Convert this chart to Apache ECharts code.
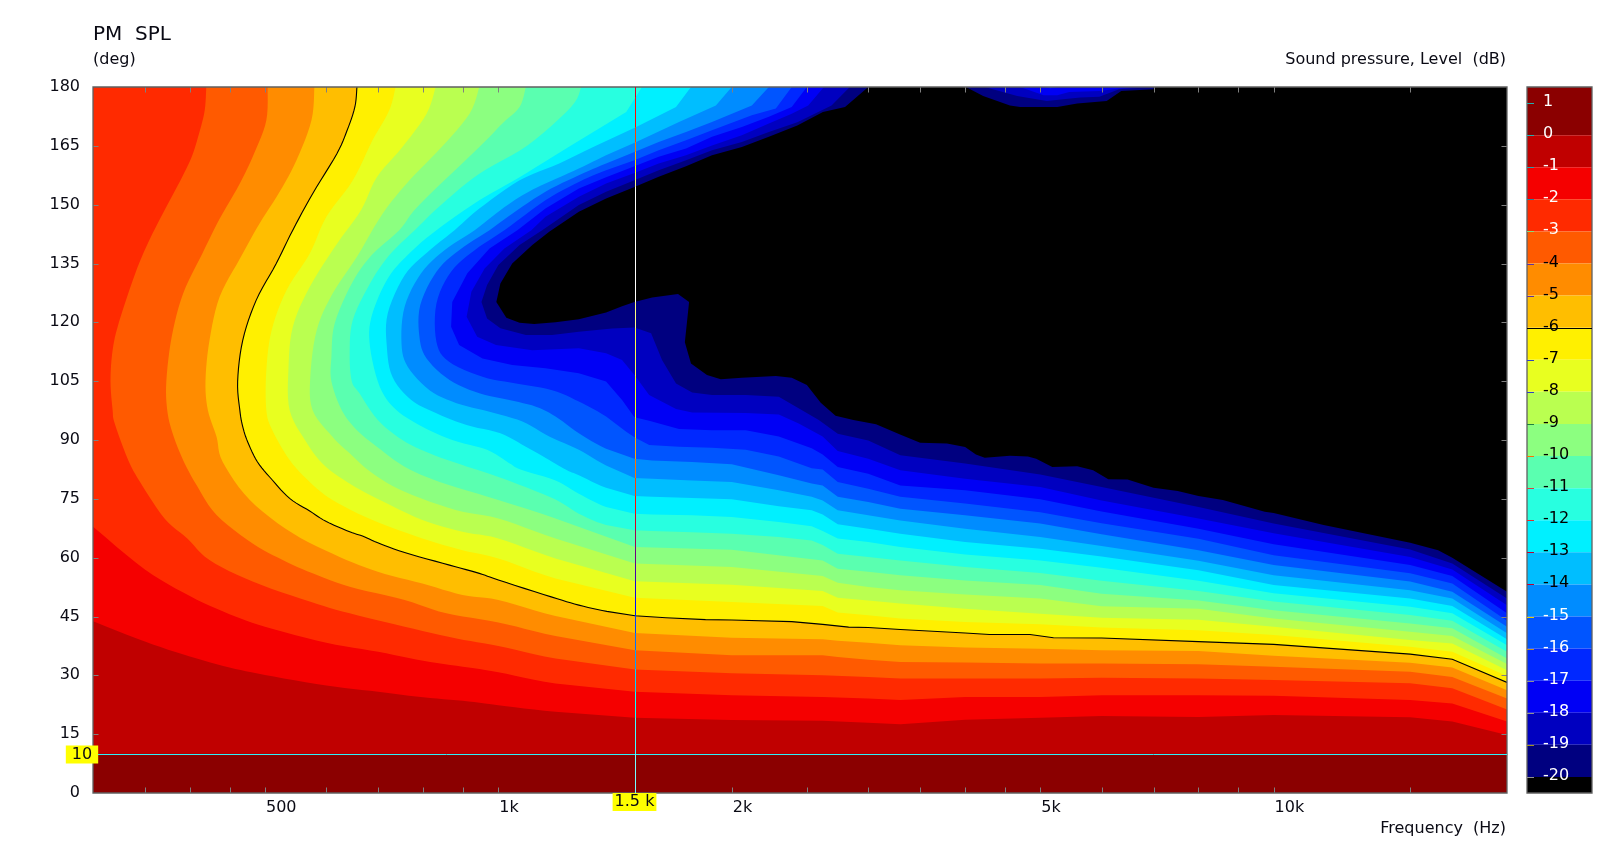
<!DOCTYPE html>
<html><head><meta charset="utf-8">
<script src="https://cdn.jsdelivr.net/npm/echarts@6/dist/echarts.min.js"></script>
<style>html,body{margin:0;padding:0;background:#fff}#c{width:1612px;height:846px}</style>
</head><body><div id="c"></div>
<script>
// Contours of level (dB) as [frequency Hz, angle deg].
const c0=[[300,10],[20000,10]];
const c1=[[300,43.8],[350,38.6],[400,34.8],[450,32],[500,30.1],[600,27.4],[700,25.8],[800,24.4],[900,23.5],[1000,22.4],[1185,20.7],[1500,19.2],[2000,18.6],[2620,18.4],[3000,17.9],[3300,17.5],[4000,18.7],[5000,19.2],[6000,19.6],[8000,19.4],[10000,19.9],[15000,19.3],[17000,18.2],[20000,14.8]];
const c2=[[300,67.9],[350,57],[400,50.2],[450,45.6],[500,42.4],[600,38.3],[700,36],[800,33.7],[900,32.2],[1000,30.8],[1185,27.9],[1500,25.8],[2000,24.9],[2620,24.5],[3000,24.1],[3300,23.7],[4000,24.5],[5000,24.5],[6000,24.9],[8000,24.9],[10000,24.8],[15000,23.7],[17000,22.8],[20000,18.2]];
const c3=[[420,180],[418,174],[411,168.1],[402,162.1],[388,155.8],[369,147.7],[353,140.1],[340,132.4],[324,120],[318,112.9],[316,105],[318,97.6],[320,94.2],[333,84.9],[345,79.3],[371,70],[397,64.9],[424,59.4],[482,53.9],[571,48.8],[643,45.8],[757,42.4],[883,39.4],[1000,37.5],[1185,34.3],[1500,31.5],[2000,30.5],[2620,30],[3000,29.6],[3300,29.2],[4000,29.2],[5000,29.2],[6000,29.4],[8000,29.2],[10000,28.8],[15000,28],[17000,26.7],[20000,21.3]];
const c4=[[504,180],[502,171.5],[485,163.4],[464,155.4],[437,146.4],[415,137.5],[392,127.3],[379,116.3],[373,105],[374,97.6],[380,91.7],[392,84.9],[408,78.5],[433,70.9],[482,63.6],[527,59.4],[576,56],[643,52.6],[757,49.2],[857,45.8],[1000,43.5],[1185,40],[1500,36.4],[2000,35.1],[2620,35.1],[2740,34.7],[3000,34],[3300,33.4],[4000,33.3],[5000,33],[6000,33],[8000,32.8],[10000,32.2],[15000,30.9],[17000,29.6],[20000,24.1]];
const c5=[[579,180],[574,171.5],[549,161.3],[522,153.2],[492,145.2],[464,136.2],[437,126.5],[424,115.4],[419,105],[422,97.6],[433,90.8],[441,84.4],[478,74.7],[543,66.2],[624,60.2],[699,56.4],[798,53.4],[899,50.5],[1000,49.2],[1185,45.1],[1500,40.8],[2000,39.6],[2620,39.2],[2740,38.8],[3000,38.3],[3300,37.7],[4000,37.1],[5000,36.8],[6000,36.4],[8000,36.2],[10000,35],[15000,33.2],[17000,32],[20000,26.2]];
const c6=[[657,180],[653,174.9],[638,168.9],[619,163],[576,152.8],[543,143.5],[517,135],[487,125.6],[468,115.4],[461,105],[464,97.6],[468,93.4],[475,89.5],[489,84.4],[511,79.8],[538,75.1],[571,71.9],[600,69.2],[643,66.6],[668,65.5],[699,63.8],[757,61.3],[865,58.1],[945,56],[1000,54.3],[1170,50],[1270,47.9],[1380,46.3],[1500,45.2],[1645,44.7],[1850,44.2],[2000,44.1],[2390,43.7],[2620,43],[2830,42.3],[3000,42.2],[3300,41.7],[4000,40.8],[4300,40.4],[4850,40.4],[5200,39.6],[6000,39.5],[8000,38.6],[10000,37.9],[15000,35.4],[17000,34.1],[20000,28.2]];
const c7=[[737,180],[723,174],[688,166.4],[649,156.2],[600,146.9],[571,137.5],[533,128.2],[510,118],[502,107.8],[502,97.6],[511,92.5],[538,84.9],[571,79.3],[611,74.7],[688,69.6],[798,64.9],[899,61.9],[1000,59.8],[1185,54.7],[1500,49.8],[2000,48.7],[2620,47.7],[2740,46],[3000,45.3],[3300,44.5],[4000,43.6],[5000,43],[6000,42.2],[8000,41.5],[10000,40.3],[15000,37.3],[17000,36],[20000,29.8]];
const c8=[[830,180],[808,173.2],[752,164.7],[697,157],[665,148.6],[619,140],[571,129],[543,118.8],[536,107.8],[538,97.6],[563,90],[593,84],[638,79.3],[697,75.1],[798,69.6],[899,66.6],[1000,64.9],[1185,59.8],[1500,54],[2000,53.1],[2620,51.5],[2740,49.8],[3000,49.1],[3300,48.3],[4000,47],[5000,45.7],[6000,44.7],[8000,44.2],[10000,42.4],[15000,39],[17000,38.1],[20000,31.3]];
const c9=[[945,180],[918,173.2],[845,164.7],[768,156.2],[709,147.7],[657,136.7],[611,127.3],[583,118],[572,106.1],[576,97.6],[611,90.8],[643,86.6],[688,81.5],[757,76.8],[883,72.1],[1000,70],[1185,64.9],[1500,58.5],[2000,57.6],[2620,55.3],[2740,53.6],[3000,52.5],[3300,51.7],[4000,50.6],[5000,49.6],[6000,47.6],[8000,47],[10000,44.5],[15000,41.1],[17000,40],[20000,32.9]];
const c10=[[1085,180],[1065,174.9],[1012,170.7],[945,164.7],[791,150],[745,143.5],[686,137.1],[647,129.9],[615,119.7],[609,111.1],[609,105],[628,97.6],[657,92.5],[697,88.3],[757,83.2],[840,79.3],[1000,74.7],[1185,70],[1500,62.7],[2000,62],[2620,59.3],[2740,57.2],[3000,56.4],[3300,55.5],[4000,54.2],[5000,53],[6000,50.8],[8000,49.1],[10000,46.6],[15000,43.2],[17000,42],[20000,34.3]];
const c11=[[1279,180],[1241,174.9],[1090,165.1],[945,157.9],[844,150],[780,143.5],[723,137.1],[683,129.9],[649,120.6],[643,112.1],[647,105],[662,101.9],[699,95.1],[752,90],[815,86.6],[899,83.6],[939,82.4],[1042,79.3],[1185,74.8],[1270,71.2],[1377,68.3],[1498,67],[1579,66.8],[1778,66.5],[2000,66.1],[2300,65.3],[2536,64.4],[2620,63.2],[2740,61],[3000,60.2],[3300,59.3],[4000,57.6],[5000,56.1],[6000,54.1],[8000,51.5],[10000,48.8],[15000,45.4],[17000,43.9],[20000,36]];
const c12=[[1532,180],[1462,173.6],[1241,165.1],[1065,157],[945,151.1],[832,143.5],[768,137.6],[720,131.2],[686,121.4],[683,113.8],[703,103.6],[738,97.7],[798,93.4],[872,90],[967,87.5],[1033,84.1],[1070,82.4],[1185,79.7],[1270,76.3],[1377,72.9],[1498,71.2],[1579,71],[1778,70.8],[2000,70.4],[2300,69.1],[2536,68],[2620,66.8],[2740,64.9],[3000,64],[3300,62.7],[4000,60.8],[5000,59.3],[6000,57.4],[8000,54.1],[10000,50.9],[15000,47.5],[17000,45.8],[20000,37.7]];
const c13=[[1772,180],[1695,174.9],[1506,169.8],[1338,165.1],[1198,160.5],[1065,156.2],[945,149],[878,143.5],[810,137.9],[757,132],[720,122.3],[718,113.8],[730,106.1],[772,100.2],[832,96.8],[910,93.8],[1006,91.7],[1085,88.3],[1163,84.9],[1223,82.4],[1270,81],[1377,77.8],[1498,75.7],[1579,75.5],[1778,75.2],[2000,74.9],[2300,73.1],[2536,72.1],[2620,71],[2740,68.5],[3000,67.4],[3300,66.1],[4000,64],[5000,62.3],[6000,60.3],[8000,56.8],[10000,53],[15000,49.6],[17000,47.7],[20000,39.2]];
const c14=[[2000,180],[1908,175.3],[1710,171.1],[1506,166],[1377,162.6],[1270,159.2],[1150,155.4],[1074,152.4],[1006,148.6],[932,143.5],[852,138.4],[795,132.5],[757,124],[750,114.6],[764,108.7],[815,102.7],[883,99.4],[974,97.2],[1074,94.7],[1163,90.9],[1270,87.5],[1377,83.5],[1498,80.3],[1579,80.1],[1778,79.7],[2000,79.3],[2300,77.2],[2536,75.5],[2620,74.6],[2740,72.1],[3000,70.8],[3300,69.5],[4000,67.4],[5000,65.3],[6000,63],[8000,59.2],[10000,55.5],[15000,51.7],[17000,49.6],[20000,40.7]];
const c15=[[2233,180],[2123,175.3],[1886,171.1],[1746,168.5],[1610,166],[1498,163.4],[1377,160.5],[1270,157.5],[1150,153.3],[1042,147.7],[974,143.5],[890,138.4],[832,132.9],[793,124.4],[791,116.3],[808,110.8],[865,105.3],[945,101.9],[1033,100.2],[1118,98.5],[1185,96],[1270,91.7],[1377,87.8],[1498,85.2],[1579,84.8],[1778,84.4],[2000,83.8],[2300,81],[2536,78.9],[2620,78.4],[2740,75.5],[3000,74.2],[3300,72.5],[4000,70.8],[5000,68.7],[6000,66],[8000,61.9],[10000,58.1],[15000,53.9],[17000,51.3],[20000,42.4]];
const c16=[[2390,180],[2280,174.5],[2123,172.8],[1886,169],[1746,166.4],[1610,163.9],[1498,161.3],[1377,158.8],[1270,155.8],[1150,151.1],[1018,143.5],[932,138.4],[869,132.9],[832,124.8],[832,115],[863,110],[954,106.1],[1054,104.4],[1173,102.7],[1270,99.8],[1377,96],[1462,92.1],[1498,90.7],[1565,88.7],[1710,88.3],[1886,88],[2085,87.5],[2300,85.8],[2536,82.8],[2620,82.5],[2740,79.3],[3000,77.6],[3300,75.5],[4000,73.8],[5000,71.6],[6000,68.8],[8000,64.8],[10000,60.6],[15000,56],[17000,53.4],[20000,43.9]];
const c17=[[2500,180],[2390,174.9],[2233,172.4],[2061,169.8],[1886,167.3],[1746,164.3],[1610,162.2],[1498,159.8],[1377,157],[1270,154.1],[1150,149],[1058,143.5],[974,138.8],[912,132.5],[872,125.2],[869,118.9],[890,114.2],[954,110.8],[1042,109.1],[1150,108.3],[1270,107],[1377,104.9],[1444,100.2],[1498,95.8],[1565,94.9],[1710,92.8],[1886,92.5],[2085,92.5],[2300,90.9],[2536,87.9],[2620,86.3],[2740,83.1],[3000,81.4],[3300,78.4],[4000,77.2],[5000,74.9],[6000,71.8],[8000,67.4],[10000,63.4],[15000,58.1],[17000,55.3],[20000,45.8]];
const c18=[[2630,180],[2510,175.3],[2390,173.2],[2233,170.7],[2061,167.7],[1886,165.1],[1746,162.6],[1610,160.5],[1498,158.1],[1377,155.4],[1270,152],[1150,146.9],[1103,143.5],[1018,138.8],[960,133.7],[923,127.8],[910,121.4],[939,116.3],[993,114.2],[1106,112.9],[1270,113.4],[1377,112.1],[1444,110.4],[1498,106.6],[1565,101.5],[1695,97.9],[1778,97],[2085,96.9],[2300,96.5],[2440,94.2],[2620,90.9],[2740,87.2],[3000,85.2],[3300,82.3],[4000,80.1],[5000,78],[6000,74.6],[8000,70],[10000,66.2],[15000,60.2],[17000,57],[20000,47.9]];
const c19=[[2840,180],[2690,175.3],[2430,171],[2233,168.5],[2061,166],[1886,163.9],[1746,161.3],[1610,158.8],[1498,156.2],[1377,153.3],[1270,149.9],[1139,143.5],[1065,139.7],[1000,134.6],[967,129.5],[951,125.2],[967,121],[1006,118.5],[1085,116.8],[1173,116.8],[1270,117.6],[1402,118.4],[1498,118.7],[1574,117.2],[1626,110.4],[1695,104.4],[1778,102.1],[1886,101.5],[2085,101.5],[2300,101],[2590,95.1],[2740,91.6],[3000,89.9],[3300,86.1],[4000,84],[5000,81.2],[6000,78],[8000,72.9],[10000,68.7],[15000,62.1],[17000,58.5],[20000,49.6]];
const c20=[[3000,180],[2800,174.9],[2622,173.6],[2430,170.2],[2233,167.3],[2061,164.7],[1886,162.6],[1746,159.8],[1610,157.1],[1498,154.5],[1377,151.6],[1270,148.2],[1163,143.1],[1106,139.7],[1042,135],[1006,129.9],[994,125.2],[1024,121.2],[1065,119.9],[1112,119.6],[1185,120],[1270,120.8],[1377,122.5],[1444,124.1],[1498,125.2],[1579,126.3],[1705,127.2],[1762,125.2],[1740,114.9],[1772,109.5],[1858,106.6],[1936,105.5],[2061,105.9],[2280,106.3],[2390,105.9],[2500,104],[2605,99.5],[2722,96.2],[2870,95.1],[3070,94],[3297,91.4],[3500,89.3],[3790,89.1],[4000,88.2],[4130,86.3],[4240,85.5],[4570,86],[4820,85.8],[4940,85.2],[5182,83.1],[5580,83.3],[5850,82.3],[6120,80],[6480,79.9],[7000,77.8],[7520,77],[8000,75.7],[8600,74.7],[9740,71.7],[10000,71.4],[11600,68.3],[15000,63.8],[16300,61.9],[17000,60],[20000,51.3]];
// Small island of higher level along the 180 deg edge
const islandM20=[[4010,180],[4220,177.7],[4570,175.3],[4710,174.9],[5260,174.9],[5580,175.8],[6090,176.4],[6360,179],[7000,179.4],[7000,180]];
const islandM19=[[4240,180],[4670,177.7],[5100,176.4],[5350,176.9],[5630,177.3],[5960,177.5],[6320,179.4],[6980,180]];
const islandM18=[[4710,180],[5050,177.9],[5260,177.9],[5450,178.7],[5960,179],[6320,179.6],[6580,180]];
const islandM17=[[5050,180],[5150,179.7],[5280,180]];

const contours=[c0,c1,c2,c3,c4,c5,c6,c7,c8,c9,c10,c11,c12,c13,c14,c15,c16,c17,c18,c19,c20];
const islands=[islandM20,islandM19,islandM18,islandM17];
const islandColors=['#000080','#0000c0','#0000f5','#0028ff'];
// colour of the band directly below each contour level
const bandColors=['#c00000','#f50000','#ff2a00','#ff5a00','#ff8c00','#ffbe00','#fff000','#e8ff20','#baff50','#8cff80','#5affb0','#28ffe0','#00f0ff','#00beff','#008cff','#0055ff','#0028ff','#0000f5','#0000c0','#000080','#000000'];
const topColor='#8b0000';
const levels=[0,-1,-2,-3,-4,-5,-6,-7,-8,-9,-10,-11,-12,-13,-14,-15,-16,-17,-18,-19,-20];
const scaleLabels=[1,0,-1,-2,-3,-4,-5,-6,-7,-8,-9,-10,-11,-12,-13,-14,-15,-16,-17,-18,-19,-20];
const scaleTickColors=['#20b0b0','#20b0b0','#20a0b0','#2080a0','#80e080','#6030a0','#6030a0','#000000','#3040c0','#3040c0','#208040','#ff7000','#e04040','#e03030','#c00030','#c00030','#e0d000','#c09020','#909090','#909090','#a09020','#909090'];
const freqTicks=[350,400,450,500,600,700,800,900,1000,1500,2000,2500,3000,3500,4000,4500,5000,6000,7000,8000,9000,10000,15000];
const freqLabels=[[500,'500'],[1000,'1k'],[2000,'2k'],[5000,'5k'],[10000,'10k']];
const angleTicks=[15,30,45,60,75,90,105,120,135,150,165];
const cursorFreq=1500, cursorAngle=10;
const F_MIN=300,F_MAX=20000;
const SMOOTH_BELOW=1400, SMOOTH_CONTOURS=16;

const FONT='"DejaVu Sans"';
const FS='16px '+FONT;
const TXT='#0a0a14';
const chart=echarts.init(document.getElementById('c'),null,{renderer:'canvas'});

// Pixel path of a contour; the low-frequency part is drawn as a curve through the read points.
function contourPixels(c,i,api){
  const px=c.map(q=>api.coord(q));
  if(i<1||i>SMOOTH_CONTOURS)return px;
  const out=[];
  for(let k=0;k<px.length-1;k++){
    out.push(px[k]);
    if(c[k][0]<SMOOTH_BELOW&&c[k+1][0]<SMOOTH_BELOW){
      const a=px[Math.max(k-1,0)],b=px[k],d=px[k+1],e=px[Math.min(k+2,px.length-1)];
      for(let s=1;s<6;s++){
        const t=s/6,t2=t*t,t3=t2*t;
        out.push([0,1].map(j=>.5*(2*b[j]+(d[j]-a[j])*t+(2*a[j]-5*b[j]+4*d[j]-e[j])*t2+(3*b[j]-a[j]-3*d[j]+e[j])*t3)));
      }
    }
  }
  out.push(px[px.length-1]);
  return out;
}
function polygonPixels(i,api){
  const c=contours[i],p=contourPixels(c,i,api);
  p.push(api.coord([F_MAX,180]));
  if(c[0][0]===F_MIN)p.push(api.coord([F_MIN,180]));
  return p;
}
function inside(pt,poly){
  let r=false;
  for(let a=0,b=poly.length-1;a<poly.length;b=a++){
    if((poly[a][1]>pt[1])!==(poly[b][1]>pt[1])&&pt[0]<(poly[b][0]-poly[a][0])*(pt[1]-poly[a][1])/(poly[b][1]-poly[a][1])+poly[a][0])r=!r;
  }
  return r;
}
function invert(hex){
  const v=0xffffff^parseInt(hex.slice(1),16);
  return '#'+v.toString(16).padStart(6,'0');
}
const plotItems=contours.map((_,i)=>[F_MIN,0,i]);
const islandItems=islands.map((_,i)=>[F_MIN,0,i]);

function overlay(params,api){
  const cs=params.coordSys, L=cs.x,T=cs.y,R=cs.x+cs.width,B=cs.y+cs.height;
  const kids=[];
  const line=(x1,y1,x2,y2)=>kids.push({type:'line',shape:{x1,y1,x2,y2},style:{stroke:'#808080',lineWidth:1}});
  freqTicks.forEach(f=>{const x=Math.round(api.coord([f,0])[0])+.5;line(x,B,x,B-5.5);line(x,T,x,T+5.5);});
  angleTicks.forEach(a=>{const y=Math.round(api.coord([F_MIN,a])[1])+.5;line(L,y,L+5.5,y);line(R,y,R-5.5,y);});
  kids.push({type:'rect',shape:{x:L,y:T,width:cs.width,height:cs.height},style:{fill:null,stroke:'#606060',lineWidth:1.3}});
  freqLabels.forEach(([f,t])=>{const x=api.coord([f,0])[0];kids.push({type:'text',x:x+1,y:B+15,style:{text:t,font:FS,fill:TXT,textAlign:'left',textVerticalAlign:'middle'}});});
  return {type:'group',children:kids};
}
// Cursor lines invert whatever band they cross.
function cursors(params,api){
  const cs=params.coordSys, L=cs.x,T=cs.y,R=cs.x+cs.width,B=cs.y+cs.height;
  const x=Math.round(api.coord([cursorFreq,0])[0])+.5, y=Math.round(api.coord([F_MIN,cursorAngle])[1])+.5;
  const polyPx=contours.map((_,i)=>polygonPixels(i,api));
  const islandPx=islands.map(q=>q.map(p=>api.coord(p)));
  const colorAt=(px,py)=>{
    let col=topColor;
    polyPx.forEach((p,i)=>{if(inside([px,py],p))col=bandColors[i];});
    islandPx.forEach((p,i)=>{if(inside([px,py],p))col=islandColors[i];});
    return col;
  };
  const kids=[];
  kids.push({type:'line',shape:{x1:L,y1:y,x2:R,y2:y},style:{stroke:'#30f0f8',lineWidth:1}});
  let start=T,cur=colorAt(x,T+.5);
  for(let py=T+1;py<=B;py++){
    const col=py<B?colorAt(x,py+.5):null;
    if(col!==cur){
      kids.push({type:'rect',shape:{x:x-.5,y:start,width:1,height:py-start},style:{fill:invert(cur)}});
      start=py;cur=col;
    }
  }
  kids.push({type:'text',x:L-11,y:y,style:{text:String(cursorAngle),font:FS,fill:TXT,textAlign:'center',textVerticalAlign:'middle',backgroundColor:'#ffff00',padding:[1,6,1,6]}});
  kids.push({type:'text',x:x-1,y:B+9,style:{text:'1.5 k',font:FS,fill:TXT,textAlign:'center',textVerticalAlign:'middle',backgroundColor:'#ffff00',padding:[1,2,1,2]}});
  return {type:'group',children:kids};
}
function scaleOverlay(params,api){
  const cs=params.coordSys, L=cs.x,T=cs.y,R=cs.x+cs.width,B=cs.y+cs.height;
  const kids=[];
  kids.push({type:'rect',shape:{x:L,y:T,width:cs.width,height:cs.height},style:{fill:null,stroke:'#606060',lineWidth:1.3}});
  scaleLabels.forEach((v,i)=>{
    const y=Math.round(api.coord([0,v])[1])+.5;
    const long=v===-6;
    kids.push({type:'line',shape:{x1:L,y1:y,x2:long?R:L+7,y2:y},style:{stroke:scaleTickColors[i],lineWidth:1}});
    const white=v>-4||v<-14;
    kids.push({type:'text',x:L+16,y:y-2,style:{text:String(v),font:FS,fill:white?'#ffffff':'#000000',textAlign:'left',textVerticalAlign:'middle'}});
  });
  return {type:'group',children:kids};
}
const scaleBands=[{lo:0,hi:1.5,c:topColor}].concat(levels.map((l,i)=>({lo:i<20?levels[i+1]:-20.5,hi:l,c:bandColors[i]})));

chart.setOption({
  animation:false,
  backgroundColor:'#ffffff',
  textStyle:{fontFamily:FONT},
  grid:[
    {left:93,top:87,width:1414,height:706,backgroundColor:topColor,show:true,borderWidth:0},
    {left:1527,top:87,width:65,height:706,show:false}
  ],
  xAxis:[
    {type:'log',logBase:10,min:F_MIN,max:F_MAX,gridIndex:0,axisLabel:{show:false},axisTick:{show:false},axisLine:{show:false},splitLine:{show:false},minorTick:{show:false},minorSplitLine:{show:false}},
    {type:'value',min:0,max:1,gridIndex:1,show:false,splitLine:{show:false}}
  ],
  yAxis:[
    {type:'value',min:0,max:180,interval:15,gridIndex:0,axisLine:{show:false},axisTick:{show:false},splitLine:{show:false},
      axisLabel:{margin:13,fontFamily:FONT,fontSize:16,color:TXT,padding:[0,0,8,0]}},
    {type:'value',min:-20.5,max:1.5,gridIndex:1,show:false,splitLine:{show:false}}
  ],
  graphic:[
    {type:'text',left:93,top:25,style:{text:'PM  SPL',font:'20px '+FONT,fill:TXT}},
    {type:'text',left:93,top:52,style:{text:'(deg)',font:FS,fill:TXT}},
    {type:'text',right:106,top:52,style:{text:'Sound pressure, Level  (dB)',font:FS,fill:TXT,textAlign:'right'}},
    {type:'text',right:106,top:821,style:{text:'Frequency  (Hz)',font:FS,fill:TXT,textAlign:'right'}}
  ],
  series:[
    {type:'custom',name:'bands',xAxisIndex:0,yAxisIndex:0,clip:true,z:2,silent:true,data:plotItems,
      renderItem(p,api){const i=api.value(2);return {type:'polygon',z2:i,shape:{points:polygonPixels(i,api)},style:{fill:bandColors[i]}};}},
    {type:'custom',name:'islands',xAxisIndex:0,yAxisIndex:0,clip:true,z:3,silent:true,data:islandItems,
      renderItem(p,api){const i=api.value(2);return {type:'polygon',z2:i,shape:{points:islands[i].map(q=>api.coord(q))},style:{fill:islandColors[i]}};}},
    {type:'custom',name:'minus6',xAxisIndex:0,yAxisIndex:0,clip:true,z:4,silent:true,data:[[F_MIN,0]],
      renderItem(p,api){return {type:'polyline',shape:{points:contourPixels(c6,6,api)},style:{fill:null,stroke:'#000',lineWidth:1.1}};}},
    {type:'custom',name:'frame',xAxisIndex:0,yAxisIndex:0,clip:false,z:5,silent:true,data:[[F_MIN,0]],renderItem:overlay},
    {type:'custom',name:'cursors',xAxisIndex:0,yAxisIndex:0,clip:false,z:6,silent:true,data:[[F_MIN,0]],renderItem:cursors},
    {type:'custom',name:'scale',xAxisIndex:1,yAxisIndex:1,clip:true,z:2,silent:true,data:scaleBands.map((b,i)=>[0,b.lo,i]),
      renderItem(p,api){const b=scaleBands[api.value(2)];const a=api.coord([0,b.hi]),c=api.coord([1,b.lo]);
        return {type:'rect',shape:{x:a[0],y:a[1],width:c[0]-a[0],height:c[1]-a[1]},style:{fill:b.c}};}},
    {type:'custom',name:'scaleOverlay',xAxisIndex:1,yAxisIndex:1,clip:false,z:5,silent:true,data:[[0,0]],renderItem:scaleOverlay}
  ]
});
</script></body></html>
